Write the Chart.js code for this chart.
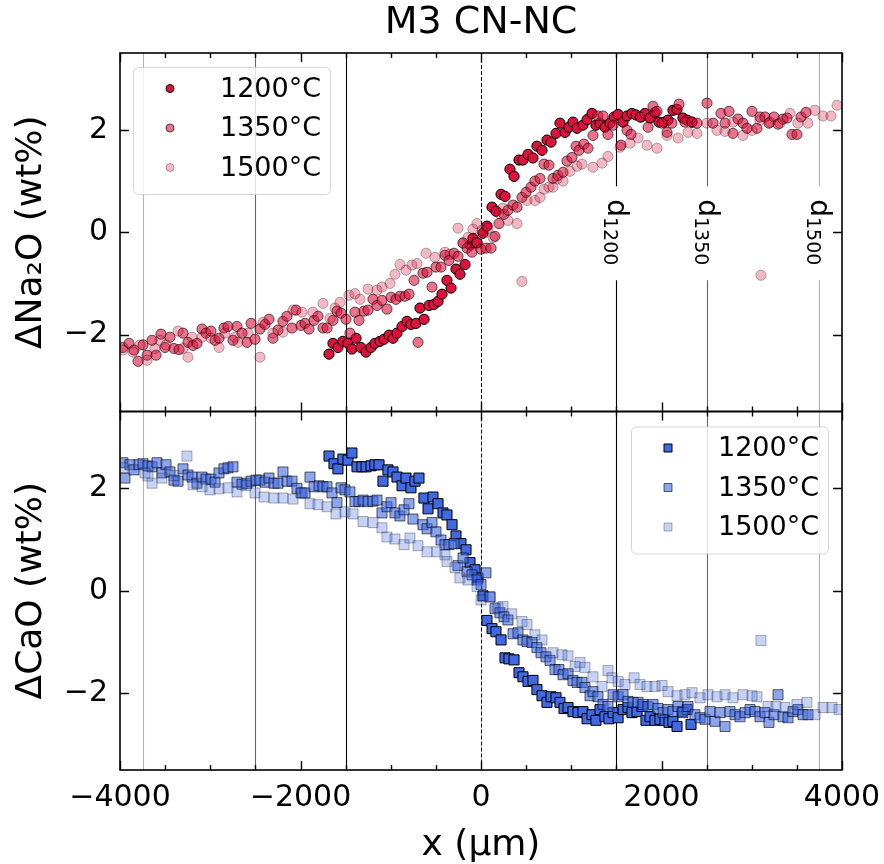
<!DOCTYPE html>
<html>
<head>
<meta charset="utf-8">
<title>M3 CN-NC</title>
<script src="https://cdn.jsdelivr.net/npm/chart.js@4.4.0/dist/chart.umd.min.js"></script>
<style>
  html, body { margin: 0; padding: 0; background: #fff; }
  #wrap { width: 884px; height: 864px; }
</style>
</head>
<body>
<div id="wrap"><canvas id="profileChart" width="884" height="864"></canvas></div>
<script>
// ---- data (x in µm, deltas in wt%) ----
const temps = ['1200°C', '1350°C', '1500°C'];

const naX1200 = [-1684,-1640,-1585,-1530,-1474,-1430,-1385,-1330,-1274,-1219,-1175,-1119,-1075,-1019,-975,-931,-875,-820,-776,-720,-676,-631,-576,-521,-476,-432,-377,-332,-277,-233,-177,-122,-89,-44,22,66,122,166,222,266,321,366,421,465,521,576,620,676,731,776,831,875,931,975,1019,1064,1130,1175,1230,1274,1319,1374,1430,1474,1519,1574,1618,1673,1717,1773,1817,1873,1928,1972,2028,2072,2127,2172,2238,2283,2338];
const naY1200 = [-2.38,-2.17,-2.25,-2.13,-2.17,-2.28,-2.07,-2.25,-2.34,-2.25,-2.17,-2.13,-2.09,-2.01,-2.07,-1.97,-1.84,-1.74,-1.80,-1.78,-1.48,-1.70,-1.43,-1.41,-1.35,-1.21,-0.94,-1.09,-0.72,-0.82,-0.63,-0.25,-0.12,-0.21,-0.02,0.12,0.49,0.41,0.74,0.70,1.23,1.09,1.41,1.41,1.52,1.45,1.68,1.60,1.80,1.76,1.93,2.13,1.95,2.05,2.15,2.03,2.09,2.20,2.32,2.09,2.13,2.05,2.13,2.25,2.30,2.15,2.27,2.32,2.29,2.25,2.32,2.23,2.34,2.15,2.15,2.19,2.38,2.40,2.23,2.19,2.15];

const naX1350 = [-3967,-3900,-3845,-3800,-3745,-3700,-3645,-3601,-3546,-3501,-3446,-3402,-3346,-3302,-3247,-3191,-3147,-3091,-3047,-2992,-2947,-2903,-2848,-2803,-2748,-2704,-2648,-2593,-2548,-2504,-2449,-2393,-2349,-2305,-2249,-2194,-2150,-2094,-2050,-1994,-1950,-1906,-1850,-1806,-1751,-1706,-1640,-1596,-1551,-1496,-1452,-1396,-1352,-1296,-1252,-1197,-1152,-1097,-1042,-997,-942,-898,-842,-798,-742,-698,-643,-598,-543,-499,-443,-399,-355,-299,-255,-199,-155,-100,-44,0,55,111,155,199,255,299,355,399,454,499,554,598,654,698,753,798,853,909,953,1008,1053,1086,1141,1186,1241,1296,1352,1407,1463,1551,1618,1662,1762,1851,1906,1950,2006,2061,2116,2194,2260,2338,2393,2504,2571,2659,2704,2748,2792,2848,2903,2947,3003,3058,3091,3147,3191,3247,3291,3346,3391,3446,3501,3546,3601];
const naY1350 = [-2.25,-2.17,-2.30,-2.52,-2.20,-2.40,-2.11,-2.40,-1.99,-2.25,-2.05,-2.27,-2.29,-1.97,-2.15,-2.21,-2.17,-1.89,-1.97,-1.93,-2.11,-2.07,-1.87,-1.84,-2.11,-1.84,-1.97,-2.15,-1.78,-2.09,-1.89,-1.80,-1.70,-2.07,-1.91,-1.74,-1.64,-1.87,-1.52,-1.82,-1.78,-1.89,-1.72,-1.64,-1.87,-1.87,-1.72,-1.54,-1.58,-1.70,-1.97,-1.56,-1.72,-1.54,-1.52,-1.31,-1.43,-1.33,-1.50,-1.27,-1.31,-1.25,-1.25,-1.21,-0.94,-2.15,-0.80,-0.78,-1.07,-0.68,-0.68,-0.45,-0.55,-0.41,-0.47,-0.21,-0.31,-0.39,-0.20,-0.33,-0.31,-0.31,-0.08,0.17,0.35,0.43,0.53,0.49,0.68,0.78,0.88,1.00,1.05,1.33,1.31,1.05,1.11,1.17,1.39,1.46,1.68,1.60,1.72,1.64,1.89,2.27,2.27,1.91,2.09,1.70,1.99,1.91,2.25,2.05,2.46,2.36,2.13,1.95,2.13,2.50,2.15,2.15,2.13,2.52,2.13,2.32,2.13,2.36,1.93,2.21,2.13,2.03,2.36,2.03,2.25,2.25,2.13,2.25,2.11,2.21,2.23,1.91,1.91,2.25,2.34];

const naX1500 = [-3967,-3856,-3778,-3700,-3612,-3557,-3490,-3357,-3302,-3247,-3202,-3091,-2992,-2903,-2837,-2726,-2693,-2582,-2449,-2416,-2305,-2194,-2083,-1983,-1862,-1751,-1673,-1618,-1563,-1463,-1396,-1341,-1252,-1152,-1097,-1008,-953,-898,-831,-765,-709,-609,-510,-399,-343,-255,-199,-144,-89,-44,11,78,133,199,244,299,399,454,510,598,654,698,753,798,842,909,986,1064,1119,1241,1341,1407,1540,1651,1740,1839,1950,2061,2183,2294,2393,2504,2615,2704,2792,2903,3003,3091,3102,3202,3313,3424,3512,3623,3701,3790,3878,3945];
const naY1500 = [-2.30,-2.34,-2.20,-2.50,-2.27,-2.11,-2.20,-1.93,-2.27,-2.44,-2.05,-2.05,-2.07,-2.25,-1.97,-2.05,-2.15,-1.97,-2.44,-1.76,-1.97,-1.95,-1.52,-1.56,-1.56,-1.39,-1.68,-1.48,-1.37,-1.23,-1.20,-1.31,-1.11,-1.13,-1.07,-1.00,-0.82,-0.63,-0.74,-0.64,-0.61,-0.41,-0.49,-0.39,-0.43,0.08,-0.21,-0.10,0.06,0.17,0.04,0.08,-0.10,0.37,0.47,0.23,0.17,-0.96,0.62,0.62,0.68,0.84,0.88,0.88,1.04,1.00,1.19,1.29,1.33,1.27,1.35,1.48,1.66,1.74,1.84,1.70,1.64,1.89,1.84,1.95,1.93,2.13,1.99,1.97,2.15,1.89,1.99,2.19,-0.84,2.15,2.13,2.32,2.13,2.13,2.38,2.27,2.27,2.48];

const caX1200 = [-1684,-1629,-1585,-1530,-1474,-1430,-1374,-1319,-1274,-1219,-1175,-1130,-1086,-1031,-975,-931,-875,-831,-776,-731,-687,-632,-587,-532,-476,-421,-377,-321,-277,-222,-166,-122,-66,-33,22,66,122,166,222,266,310,366,421,465,521,576,620,676,731,776,831,875,920,964,1019,1075,1130,1175,1230,1274,1319,1374,1418,1463,1519,1574,1629,1673,1729,1784,1828,1873,1928,1983,2039,2083,2127,2172,2227,2283,2327];
const caY1200 = [2.63,2.48,2.38,2.57,2.55,2.69,2.42,2.42,2.42,2.44,2.46,2.46,2.14,2.36,2.32,2.22,2.05,2.20,2.01,2.14,2.20,1.81,1.60,1.83,1.70,1.52,1.48,1.29,1.07,0.92,0.80,0.55,0.41,0.25,-0.10,-0.58,-0.74,-0.80,-0.96,-1.31,-1.33,-1.35,-1.60,-1.68,-1.77,-1.75,-1.93,-2.05,-2.18,-2.07,-2.09,-2.18,-2.30,-2.28,-2.36,-2.38,-2.36,-2.50,-2.42,-2.53,-2.32,-2.46,-2.50,-2.38,-2.48,-2.32,-2.28,-2.38,-2.36,-2.26,-2.53,-2.46,-2.53,-2.51,-2.53,-2.57,-2.55,-2.65,-2.36,-2.32,-2.61];

const caX1350 = [-3967,-3945,-3889,-3845,-3789,-3745,-3690,-3645,-3590,-3535,-3490,-3446,-3402,-3357,-3302,-3247,-3202,-3147,-3091,-3047,-2992,-2947,-2903,-2848,-2803,-2748,-2704,-2648,-2593,-2548,-2493,-2449,-2393,-2349,-2294,-2249,-2194,-2150,-2094,-2039,-1994,-1950,-1895,-1850,-1795,-1751,-1706,-1651,-1596,-1551,-1507,-1452,-1396,-1352,-1307,-1252,-1197,-1152,-1097,-1042,-997,-953,-898,-853,-798,-754,-643,-598,-543,-499,-443,-399,-355,-299,-255,-199,-155,-100,-44,0,55,100,155,210,255,299,355,410,465,510,565,620,665,720,765,820,864,909,964,1019,1064,1119,1152,1208,1241,1296,1352,1407,1463,1519,1574,1629,1684,1740,1795,1851,1906,1961,2017,2072,2127,2183,2238,2294,2371,2427,2482,2538,2593,2648,2704,2759,2815,2870,2926,2981,3036,3091,3147,3191,3247,3291,3346,3402,3457,3512,3568,3623];
const caY1350 = [2.50,2.20,2.46,2.36,2.46,2.48,2.44,2.42,2.50,2.30,2.46,2.32,2.16,2.14,2.38,2.26,2.22,2.10,2.22,2.18,2.18,2.12,2.30,2.38,2.40,2.42,2.12,2.08,2.10,2.14,2.16,2.16,2.12,2.20,2.10,2.10,2.32,2.14,2.14,2.00,1.91,1.91,2.22,2.03,2.05,2.03,2.03,1.91,1.72,2.01,1.97,1.93,1.74,1.74,1.77,1.74,1.75,1.77,1.52,1.64,1.72,1.52,1.46,1.58,1.70,1.40,1.29,1.21,1.33,1.15,0.99,0.90,0.90,0.92,0.49,0.64,0.37,0.31,0.21,0.12,0.35,-0.12,-0.35,-0.43,-0.51,-0.57,-0.84,-0.82,-0.96,-0.99,-1.01,-1.11,-1.21,-1.29,-1.36,-1.54,-1.54,-1.64,-1.62,-1.75,-1.79,-1.79,-1.89,-2.05,-1.97,-2.07,-2.22,-2.26,-2.03,-2.07,-2.03,-2.16,-2.18,-2.18,-2.22,-2.26,-2.22,-2.30,-2.38,-2.32,-2.36,-2.26,-2.38,-2.26,-2.42,-2.48,-2.51,-2.36,-2.55,-2.38,-2.65,-2.36,-2.42,-2.46,-2.38,-2.32,-2.36,-2.46,-2.38,-2.57,-2.42,-2.03,-2.46,-2.48,-2.36,-2.32,-2.42,-2.42];

const caX1500 = [-3967,-3723,-3690,-3645,-3535,-3402,-3258,-3191,-3091,-3003,-2903,-2803,-2704,-2604,-2504,-2404,-2294,-2194,-2083,-1983,-1895,-1806,-1706,-1607,-1507,-1418,-1307,-1197,-1097,-1042,-953,-853,-787,-698,-598,-488,-399,-377,-288,-233,-144,-44,0,100,188,244,340,454,510,598,676,798,897,964,1042,1097,1152,1241,1341,1407,1452,1519,1596,1696,1762,1839,1928,2006,2072,2172,2260,2338,2427,2515,2615,2704,2792,2903,3003,3058,3102,3180,3269,3369,3501,3612,3701,3790,3889,3967];
const caY1500 = [2.40,2.30,2.24,2.10,2.20,2.25,2.63,2.07,2.03,1.97,1.99,2.01,1.93,2.05,1.91,1.83,1.81,1.81,1.79,1.91,1.70,1.68,1.64,1.50,1.54,1.50,1.35,1.33,1.23,1.05,1.01,0.90,1.03,0.88,0.76,0.76,0.70,0.57,0.45,0.25,0.21,0.08,-0.18,-0.12,-0.33,-0.31,-0.45,-0.60,-0.66,-0.86,-0.96,-1.21,-1.25,-1.27,-1.48,-1.40,-1.50,-1.68,-1.87,-1.56,-1.70,-1.77,-1.83,-1.70,-1.83,-1.87,-1.87,-1.85,-1.97,-2.05,-2.03,-1.99,-2.09,-2.03,-2.07,-2.03,-2.09,-2.03,-2.05,-2.07,-0.97,-2.26,-2.26,-2.28,-2.22,-2.18,-2.42,-2.28,-2.28,-2.32];

// diffusion distances (vertical reference lines) and their labels
const dLines = [-3750, -2500, -1500, 1500, 2500, 3750];
const dLineAlpha = [0.3, 0.6, 1, 1, 0.6, 0.3];
const dLabels = { 1500: '1200', 2500: '1350', 3750: '1500' };
const xTicks = [-4000, -2000, 0, 2000, 4000];
const yTicks = [-2, 0, 2];

const FONT = '"DejaVu Sans", sans-serif';
const RED = [220, 20, 60];
const BLUE = [65, 105, 225];
const ALPHAS = [1, 0.6, 0.3];

const zip = (xs, ys) => xs.map((v, i) => ({ x: v, y: ys[i] }));
const rgba = (c, a) => `rgba(${c[0]},${c[1]},${c[2]},${a})`;

function makeSet(label, xs, ys, axis, col, idx, shape) {
  return {
    label: label,
    data: zip(xs, ys),
    yAxisID: axis,
    order: 3 - idx,
    pointStyle: shape,
    pointRadius: shape === 'rect' ? 7.1 : 5.1,
    pointBackgroundColor: rgba(col, ALPHAS[idx]),
    pointBorderColor: rgba([0, 0, 0], ALPHAS[idx]),
    pointBorderWidth: 1,
    showLine: false
  };
}

const datasets = [
  makeSet(temps[0], naX1200, naY1200, 'yNa', RED, 0, 'circle'),
  makeSet(temps[1], naX1350, naY1350, 'yNa', RED, 1, 'circle'),
  makeSet(temps[2], naX1500, naY1500, 'yNa', RED, 2, 'circle'),
  makeSet(temps[0], caX1200, caY1200, 'yCa', BLUE, 0, 'rect'),
  makeSet(temps[1], caX1350, caY1350, 'yCa', BLUE, 1, 'rect'),
  makeSet(temps[2], caX1500, caY1500, 'yCa', BLUE, 2, 'rect')
];

const minus = v => (v < 0 ? '\u2212' + Math.abs(v) : String(v));

function yScale(titleText) {
  return {
    type: 'linear',
    position: 'left',
    stack: 'panels',
    stackWeight: 1,
    min: -3.5,
    max: 3.5,
    afterBuildTicks: s => { s.ticks = yTicks.map(v => ({ value: v })); },
    afterFit: s => { s.width = 120; },
    grid: { display: false, drawTicks: false },
    border: { display: false },
    ticks: { font: { family: FONT, size: 30 }, color: '#000', padding: 12, callback: minus },
    title: { display: true, text: titleText, color: '#000',
             font: { family: FONT, size: 36, lineHeight: 1 }, padding: { top: 14, bottom: 0 } }
  };
}

// lines, labels, legends, frames and inward ticks
const decor = {
  id: 'decor',
  beforeDatasetsDraw(chart) {
    const { ctx, scales: { x, yNa, yCa } } = chart;
    ctx.save();
    [yNa, yCa].forEach(ys => {
      dLines.forEach((v, i) => {
        const px = Math.round(x.getPixelForValue(v)) + 0.5;
        ctx.strokeStyle = rgba([0, 0, 0], dLineAlpha[i]);
        ctx.lineWidth = 1.1;
        ctx.beginPath(); ctx.moveTo(px, ys.top); ctx.lineTo(px, ys.bottom); ctx.stroke();
      });
      const p0 = Math.round(x.getPixelForValue(0)) + 0.5;
      ctx.strokeStyle = '#000';
      ctx.lineWidth = 1;
      ctx.setLineDash([4, 2]);
      ctx.beginPath(); ctx.moveTo(p0, ys.top); ctx.lineTo(p0, ys.bottom); ctx.stroke();
      ctx.setLineDash([]);
    });
    ctx.restore();
  },
  afterDatasetsDraw(chart) {
    const { ctx, scales: { x, yNa, yCa } } = chart;
    ctx.save();

    // d labels in the upper panel
    Object.keys(dLabels).forEach(k => {
      const px = x.getPixelForValue(+k);
      const py = yNa.getPixelForValue(0);
      ctx.save();
      ctx.translate(px, py);
      ctx.rotate(Math.PI / 2);
      ctx.fillStyle = '#fff';
      ctx.fillRect(-46, -20, 94, 38);
      ctx.fillStyle = '#000';
      ctx.textBaseline = 'alphabetic';
      ctx.font = `28px ${FONT}`;
      const wd = ctx.measureText('d').width;
      ctx.font = `19px ${FONT}`;
      const ws = ctx.measureText(dLabels[k]).width;
      const start = -(wd + ws) / 2;
      ctx.font = `28px ${FONT}`;
      ctx.fillText('d', start, 8);
      ctx.font = `19px ${FONT}`;
      ctx.fillText(dLabels[k], start + wd, 12);
      ctx.restore();
    });

    // legends
    const drawLegend = (left, top, sets) => {
      const w = 197, h = 127;
      ctx.fillStyle = 'rgba(255,255,255,0.8)';
      ctx.strokeStyle = 'rgba(204,204,204,0.8)';
      ctx.lineWidth = 1;
      ctx.beginPath();
      ctx.roundRect(left + 0.5, top + 0.5, w, h, 5);
      ctx.fill(); ctx.stroke();
      const rows = [21.5, 61, 100.5];
      sets.forEach((ds, i) => {
        const cy = top + rows[i];
        const cx = left + 37;
        ctx.fillStyle = ds.pointBackgroundColor;
        ctx.strokeStyle = ds.pointBorderColor;
        ctx.lineWidth = 1;
        ctx.beginPath();
        if (ds.pointStyle === 'rect') ctx.rect(cx - 4, cy - 4, 8, 8);
        else ctx.arc(cx, cy, 4, 0, Math.PI * 2);
        ctx.fill(); ctx.stroke();
        ctx.fillStyle = '#000';
        ctx.font = `27px ${FONT}`;
        ctx.textBaseline = 'middle';
        ctx.textAlign = 'left';
        ctx.fillText(ds.label, left + 87, cy + 1);
      });
    };
    drawLegend(x.left + 13, yNa.top + 14, datasets.slice(0, 3));
    drawLegend(x.right - 14 - 197, yCa.top + 15, datasets.slice(3));

    // frames and inward ticks
    ctx.strokeStyle = '#000';
    [yNa, yCa].forEach(ys => {
      ctx.lineWidth = 1.6;
      ctx.strokeRect(x.left, ys.top, x.right - x.left, ys.bottom - ys.top);
      ctx.lineWidth = 1.4;
      ctx.beginPath();
      for (let v = x.min; v <= x.max; v += 500) {
        const px = Math.round(x.getPixelForValue(v)) + 0.5;
        const len = xTicks.includes(v) ? 9 : 5;
        ctx.moveTo(px, ys.top); ctx.lineTo(px, ys.top + len);
        ctx.moveTo(px, ys.bottom); ctx.lineTo(px, ys.bottom - len);
      }
      yTicks.forEach(v => {
        const py = Math.round(ys.getPixelForValue(v)) + 0.5;
        ctx.moveTo(x.left, py); ctx.lineTo(x.left + 9, py);
        ctx.moveTo(x.right, py); ctx.lineTo(x.right - 9, py);
      });
      ctx.stroke();
    });
    ctx.restore();
  }
};

new Chart(document.getElementById('profileChart'), {
  type: 'scatter',
  data: { datasets: datasets },
  options: {
    responsive: false,
    animation: false,
    devicePixelRatio: 1,
    layout: { padding: { left: 0, right: 42, top: 0, bottom: 0 } },
    plugins: {
      legend: { display: false },
      tooltip: { enabled: false },
      title: { display: true, fullSize: false, text: 'M3 CN-NC', color: '#000',
               font: { family: FONT, size: 38, weight: 'normal', lineHeight: 1.2 },
               padding: { top: 0, bottom: 7.4 } }
    },
    scales: {
      x: {
        type: 'linear',
        min: -4000,
        max: 4000,
        afterBuildTicks: s => { s.ticks = xTicks.map(v => ({ value: v })); },
        afterFit: s => { s.height = 94; s.paddingLeft = 0; s.paddingRight = 0; },
        grid: { display: false, drawTicks: false },
        border: { display: false },
        ticks: { font: { family: FONT, size: 30 }, color: '#000', padding: 10, maxRotation: 0, callback: minus },
        title: { display: true, text: 'x (µm)', color: '#000',
                 font: { family: FONT, size: 36, lineHeight: 1 }, padding: 0 }
      },
      yCa: yScale('ΔCaO (wt%)'),
      yNa: yScale('ΔNa₂O (wt%)')
    }
  },
  plugins: [decor]
});
</script>
</body>
</html>
